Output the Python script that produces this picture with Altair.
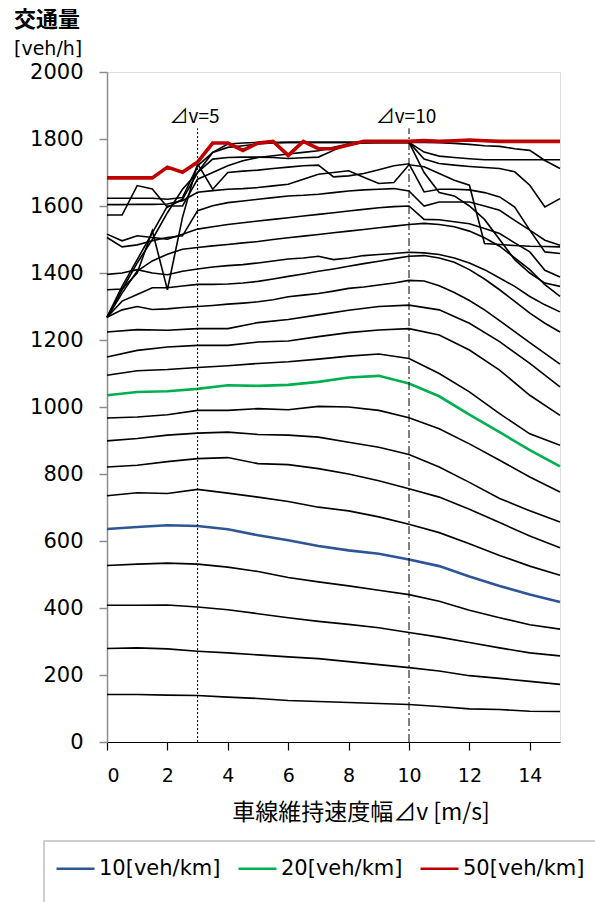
import altair as alt
import pandas as pd

# ---------------- data ----------------
X_ONE = list(range(16))                      # 0,1,...,15
X_HALF = [i * 0.5 for i in range(31)]        # 0,0.5,...,15

# lower black lines (values at x = 0..15 step 1)
BLACK_LOW = {
    "2": [142, 142, 140, 139, 134, 130, 124, 121, 118, 115, 112, 106, 99, 97, 92, 91],
    "4": [279, 281, 278, 271, 266, 260, 254, 249, 240, 231, 222, 212, 198, 190, 181, 172],
    "6": [408, 408, 409, 403, 395, 383, 371, 360, 351, 341, 327, 313, 297, 281, 266, 257],
    "8": [527, 531, 534, 531, 522, 509, 491, 478, 466, 453, 440, 420, 393, 371, 350, 337],
    "12": [735, 744, 742, 754, 743, 731, 718, 701, 690, 672, 650, 625, 592, 557, 525, 498],
    "14": [821, 826, 837, 846, 849, 831, 828, 816, 800, 780, 756, 731, 695, 655, 615, 580],
    "16": [899, 906, 916, 922, 925, 918, 916, 910, 895, 880, 858, 821, 775, 727, 690, 657],
    "18": [967, 970, 977, 990, 990, 995, 992, 1002, 1000, 990, 968, 935, 890, 841, 791, 746],
    "22": [1095, 1108, 1112, 1118, 1123, 1130, 1135, 1143, 1152, 1158, 1145, 1100, 1045, 980, 920, 886],
    "24": [1149, 1169, 1179, 1184, 1184, 1194, 1197, 1210, 1222, 1230, 1234, 1215, 1170, 1110, 1035, 975],
    "26": [1224, 1231, 1229, 1234, 1234, 1252, 1261, 1275, 1289, 1300, 1304, 1290, 1250, 1195, 1130, 1060],
}

# upper black lines (values at x = 0..15 step 0.5)
BLACK_UP = {
    "A": [1268, 1290, 1300, 1291, 1293, 1297, 1300, 1303, 1307, 1310, 1314, 1320, 1329, 1334, 1339, 1346,
          1354, 1358, 1364, 1370, 1378, 1376, 1362, 1342, 1318, 1290, 1258, 1225, 1192, 1160, 1128],
    "B": [1268, 1316, 1336, 1356, 1356, 1361, 1366, 1366, 1367, 1370, 1375, 1382, 1390, 1397, 1405, 1412,
          1420, 1428, 1435, 1443, 1450, 1452, 1445, 1432, 1410, 1382, 1350, 1315, 1280, 1250, 1224],
    "C": [1396, 1400, 1410, 1400, 1395, 1405, 1412, 1418, 1422, 1425, 1430, 1436, 1442, 1445, 1450, 1440,
          1445, 1452, 1455, 1458, 1462, 1460, 1455, 1445, 1430, 1410, 1385, 1360, 1330, 1305, 1284],
    "E": [1266, 1340, 1406, 1436, 1456, 1471, 1476, 1481, 1485, 1490, 1494, 1500, 1505, 1510, 1515, 1520,
          1525, 1530, 1535, 1540, 1545, 1548, 1545, 1538, 1525, 1505, 1480, 1445, 1410, 1365, 1330],
    "F": [1516, 1496, 1511, 1506, 1501, 1516, 1531, 1538, 1545, 1550, 1555, 1560, 1565, 1570, 1575, 1580,
          1585, 1590, 1595, 1598, 1600, 1560, 1559, 1553, 1547, 1533, 1518, 1490, 1463, 1408, 1388],
    "G": [1506, 1478, 1484, 1496, 1506, 1511, 1586, 1601, 1610, 1615, 1620, 1625, 1630, 1632, 1635, 1640,
          1645, 1648, 1650, 1652, 1645, 1600, 1612, 1612, 1612, 1600, 1587, 1557, 1528, 1498, 1483],
    "H": [1604, 1604, 1605, 1605, 1606, 1616, 1641, 1646, 1650, 1652, 1655, 1660, 1665, 1680, 1695, 1700,
          1705, 1686, 1667, 1670, 1723, 1717, 1697, 1677, 1662, 1488, 1485, 1482, 1480, 1479, 1478],
    "I": [1623, 1623, 1623, 1623, 1620, 1625, 1720, 1760, 1775, 1780, 1785, 1788, 1790, 1790, 1790, 1790,
          1790, 1790, 1790, 1790, 1790, 1761, 1749, 1745, 1741, 1738, 1738, 1738, 1738, 1738, 1738],
    "J": [1573, 1573, 1661, 1651, 1596, 1620, 1700, 1740, 1745, 1746, 1746, 1745, 1742, 1744, 1746, 1766,
          1786, 1790, 1790, 1790, 1790, 1790, 1789, 1787, 1784, 1780, 1778, 1771, 1766, 1736, 1712],
    "K": [1350, 1352, 1400, 1526, 1350, 1566, 1726, 1650, 1700, 1704, 1707, 1712, 1716, 1720, 1722, 1687,
          1690, 1697, 1708, 1720, 1726, 1642, 1650, 1650, 1648, 1640, 1627, 1597, 1528, 1463, 1458],
    "L": [1268, 1350, 1430, 1500, 1580, 1650, 1700, 1760, 1785, 1788, 1790, 1790, 1790, 1790, 1790, 1790,
          1790, 1790, 1790, 1790, 1790, 1740, 1727, 1722, 1718, 1715, 1712, 1702, 1662, 1597, 1622],
    "M": [1268, 1360, 1440, 1520, 1600, 1600, 1680, 1700, 1720, 1735, 1745, 1750, 1755, 1760, 1765, 1775,
          1785, 1788, 1790, 1790, 1790, 1700, 1640, 1630, 1600, 1560, 1500, 1440, 1400, 1370, 1360],
}

BLUE_10 = [636, 642, 647, 645, 635, 617, 602, 585, 572, 562, 545, 525, 494, 466, 440, 418]
GREEN_20 = [1035, 1045, 1047, 1054, 1065, 1063, 1066, 1075, 1088, 1093, 1070, 1032, 977, 925, 871, 823]
RED_50 = [1684, 1684, 1684, 1684, 1716, 1701, 1731, 1788, 1788, 1766, 1788, 1793, 1751, 1793, 1771, 1771,
          1782, 1793, 1793, 1793, 1793, 1795, 1793, 1795, 1797, 1795, 1793, 1793, 1793, 1793, 1793]

LEGEND_NAMES = ["10[veh/km]", "20[veh/km]", "50[veh/km]"]
LEGEND_COLORS = ["#2F5597", "#00B050", "#C00000"]

Y_TICKS = list(range(0, 2001, 200))
X_TICKS = list(range(0, 15, 2))

# ---------------- tables ----------------
rows = []
for name, ys in BLACK_LOW.items():
    rows += [{"series": name, "x": x, "y": y} for x, y in zip(X_ONE, ys)]
for name, ys in BLACK_UP.items():
    rows += [{"series": name, "x": x, "y": y} for x, y in zip(X_HALF, ys)]
df_black = pd.DataFrame(rows)

df_bg = pd.DataFrame(
    [{"series": LEGEND_NAMES[0], "x": x, "y": y} for x, y in zip(X_ONE, BLUE_10)]
    + [{"series": LEGEND_NAMES[1], "x": x, "y": y} for x, y in zip(X_ONE, GREEN_20)]
)
df_red = pd.DataFrame([{"series": LEGEND_NAMES[2], "x": x, "y": y} for x, y in zip(X_HALF, RED_50)])

FONT = "DejaVu Sans"
JFONT = "Noto Sans CJK JP"

xscale = alt.Scale(domain=[0, 15], nice=False, zero=False)
yscale = alt.Scale(domain=[0, 2000], nice=False)

xaxis = alt.Axis(values=X_TICKS, title=None, grid=False, labelFont=FONT, labelFontSize=19,
                 labelColor="black", tickColor="black", domainColor="black", tickSize=8,
                 labelPadding=16, domainWidth=1.2, tickWidth=1.2, format="d")
yaxis = alt.Axis(values=Y_TICKS, title=None, grid=False, labelFont=FONT, labelFontSize=21,
                 labelColor="black", tickColor="#8c8c8c", domainColor="#8c8c8c", tickSize=8,
                 labelPadding=16, domainWidth=1.5, tickWidth=1.5, format="d")

X = alt.X("x:Q", scale=xscale, axis=xaxis)
Y = alt.Y("y:Q", scale=yscale, axis=yaxis)

color_scale = alt.Scale(domain=LEGEND_NAMES, range=LEGEND_COLORS)
legend = alt.Legend(title=None, orient="none", legendX=-52, legendY=776, direction="horizontal",
                    symbolType="stroke", symbolSize=1444, symbolStrokeWidth=2.5,
                    labelFont=FONT, labelFontSize=21, labelColor="black", columnPadding=12,
                    labelOffset=3, labelLimit=300)

black = alt.Chart(df_black).mark_line(color="black", strokeWidth=1.6).encode(
    x=X, y=Y, detail="series:N")

bg = alt.Chart(df_bg).mark_line(strokeWidth=2.6).encode(
    x=X, y=Y, detail="series:N",
    color=alt.Color("series:N", scale=color_scale, legend=legend))

red = alt.Chart(df_red).mark_line(strokeWidth=3.6).encode(
    x=X, y=Y,
    color=alt.Color("series:N", scale=color_scale, legend=legend))

one = pd.DataFrame({"k": [0]})

vline5 = alt.Chart(one).mark_rule(color="black", strokeWidth=1, strokeDash=[2, 2]).encode(
    x=alt.datum(3), y=alt.datum(0), y2=alt.datum(1832))
vline10 = alt.Chart(one).mark_rule(color="black", strokeWidth=1, strokeDash=[8, 3, 2, 3]).encode(
    x=alt.datum(10), y=alt.datum(0), y2=alt.datum(1832))

ann5 = alt.Chart(one).mark_text(font=JFONT, fontSize=19, color="black").encode(
    x=alt.datum(2.9), y=alt.datum(1866), text=alt.value("⊿v=5"))
ann10 = alt.Chart(one).mark_text(font=JFONT, fontSize=19, color="black").encode(
    x=alt.datum(9.9), y=alt.datum(1866), text=alt.value("⊿v=10"))

ytitle1 = alt.Chart(one).mark_text(font=JFONT, fontSize=22, fontWeight="bold", align="left",
                                   color="black").encode(
    x=alt.value(-93), y=alt.value(-52), text=alt.value("交通量"))
ytitle2 = alt.Chart(one).mark_text(font=FONT, fontSize=19, align="left", color="black").encode(
    x=alt.value(-93), y=alt.value(-23), text=alt.value("[veh/h]"))
xtitle = alt.Chart(one).mark_text(font=JFONT, fontSize=23, color="black").encode(
    x=alt.value(254), y=alt.value(741), text=alt.value("車線維持速度幅⊿v [m/s]"))

legend_box = alt.Chart(one).mark_rect(fill="white", stroke="#BFBFBF", strokeWidth=1.5).encode(
    x=alt.value(-63), x2=alt.value(500), y=alt.value(769), y2=alt.value(840))

chart = alt.layer(
    legend_box, black, bg, red, vline5, vline10, ann5, ann10, ytitle1, ytitle2, xtitle
).resolve_scale(color="shared").properties(
    width=453, height=670,
    padding={"left": 107, "top": 72, "right": 35, "bottom": 160},
    autosize=alt.AutoSizeParams(type="none"),
).configure_view(stroke=None).configure(background="white")

chart.save("out.html", embed_options={"renderer": "svg", "actions": False})
